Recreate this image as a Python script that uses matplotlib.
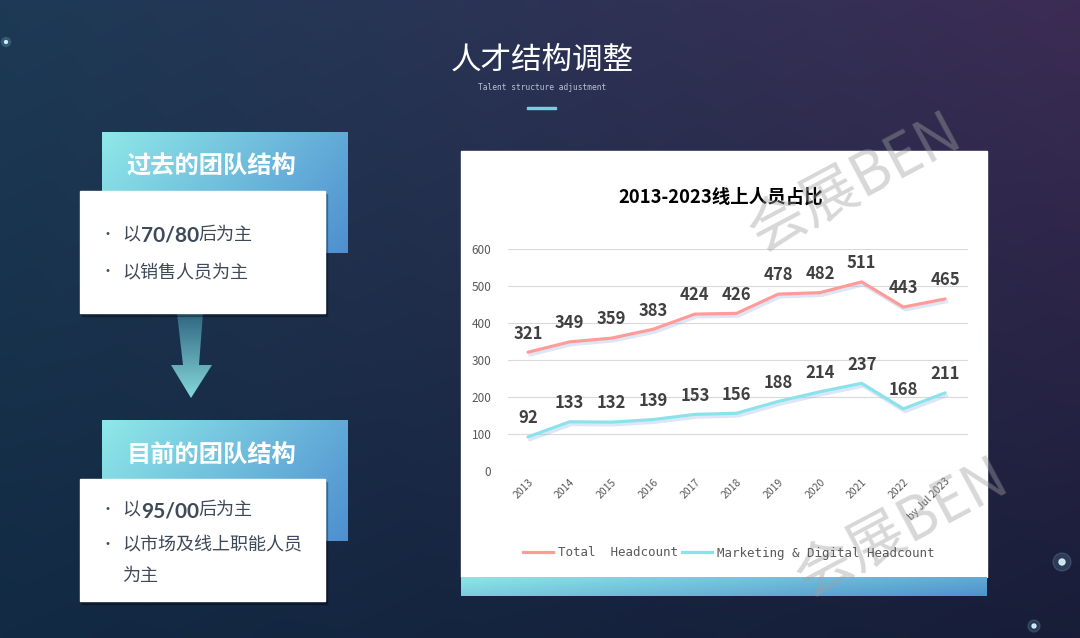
import numpy as np
import matplotlib.pyplot as plt
from matplotlib.patches import Rectangle, Polygon, Circle
from matplotlib.lines import Line2D
import matplotlib.patheffects as pe

plt.rcParams['font.family'] = ['Noto Sans CJK SC', 'DejaVu Sans']

# 数据
years = ['2013', '2014', '2015', '2016', '2017', '2018', '2019', '2020', '2021', '2022', 'by Jul 2023']
total = [321, 349, 359, 383, 424, 426, 478, 482, 511, 443, 465]
marketing = [92, 133, 132, 139, 153, 156, 188, 214, 237, 168, 211]
yticks = [0, 100, 200, 300, 400, 500, 600]
series_names = ['Total  Headcount', 'Marketing & Digital Headcount']
series_colors = ['#ff9b98', '#8ae3ea']

past_title = '过去的团队结构'
past_items = [['以', '70/80', '后为主'], ['以销售人员为主']]
now_title = '目前的团队结构'
now_items = [['以', '95/00', '后为主'], ['以市场及线上职能人员'], ['为主']]

W, H = 1080, 638
fig = plt.figure(figsize=(10.8, 6.38), dpi=100)
bg = fig.add_axes([0, 0, 1, 1])
bg.axis('off')


def hexrgb(h):
    h = h.lstrip('#')
    return np.array([int(h[i:i + 2], 16) for i in (0, 2, 4)]) / 255.0


# 背景渐变
tl, tr = hexrgb('#1d3a55'), hexrgb('#3c2c55')
bl, br = hexrgb('#122a44'), hexrgb('#181d38')
u = np.linspace(0, 1, 108)[None, :, None]
v = np.linspace(0, 1, 64)[:, None, None]
img = (1 - v) * ((1 - u) * tl + u * tr) + v * ((1 - u) * bl + u * br)
bg.imshow(img, extent=(0, W, H, 0), origin='upper', interpolation='bilinear', zorder=0)


def grad_box(x0, y0, x1, y1, c0, c1, z=2, clip=None):
    a, b = hexrgb(c0), hexrgb(c1)
    uu = np.linspace(0, 1, 60)[None, :, None]
    vv = np.linspace(0, 1, 60)[:, None, None]
    t = np.clip(0.7 * uu + 0.3 * vv, 0, 1)
    im = bg.imshow((1 - t) * a + t * b, extent=(x0, x1, y1, y0), origin='upper',
                   interpolation='bilinear', zorder=z)
    if clip is not None:
        im.set_clip_path(clip)
    return im


def vgrad(x0, y0, x1, y1, c0, c1, z=2, clip=None):
    a, b = hexrgb(c0), hexrgb(c1)
    vv = np.linspace(0, 1, 60)[:, None, None]
    g = np.repeat((1 - vv) * a + vv * b, 4, axis=1)
    im = bg.imshow(g, extent=(x0, x1, y1, y0), origin='upper',
                   interpolation='bilinear', zorder=z)
    if clip is not None:
        im.set_clip_path(clip)


# 左侧两个板块
def panel(y_top, title):
    grad_box(102, y_top, 348, y_top + 121, '#8ee8e8', '#4f8fd0', z=2)
    bg.text(211, y_top + 35, title, color='white', fontsize=17.5, fontweight='bold',
            ha='center', va='center', zorder=3)
    bg.add_patch(Rectangle((82, y_top + 62), 245, 122, color='black', alpha=0.25, zorder=3))
    bg.add_patch(Rectangle((80, y_top + 59), 245, 122, color='white', zorder=4))


def bullets(y_list, items):
    txt = '#3e4a5a'
    for y, parts in zip(y_list, items):
        if parts[0] != '为主':
            bg.text(107, y, '•', color=txt, fontsize=10, ha='center', va='center', zorder=5)
        if len(parts) == 3:
            t1 = bg.text(122, y, parts[0], color=txt, fontsize=13, va='center', zorder=5)
            fig.canvas.draw()
            x2 = 122 + t1.get_window_extent().width + 1
            t2 = bg.text(x2, y + 1, parts[1], color=txt, fontsize=15, fontweight='bold',
                         va='center', zorder=5, family=['Lato', 'DejaVu Sans'])
            fig.canvas.draw()
            x3 = x2 + t2.get_window_extent().width - 1
            bg.text(x3, y, parts[2], color=txt, fontsize=13, va='center', zorder=5)
        else:
            bg.text(122, y, parts[0], color=txt, fontsize=13, va='center', zorder=5)


panel(132, past_title)
bullets([235, 272], past_items)
panel(420, now_title)
bullets([510, 545, 576], now_items)

# 箭头
arrow = Polygon([(177, 313), (203, 313), (199, 365), (212, 365), (191, 398),
                 (171, 365), (183, 365)], closed=True, facecolor='none', edgecolor='none')
bg.add_patch(arrow)
vgrad(168, 313, 215, 398, '#2f6680', '#86d8dc', z=2, clip=arrow)

# 标题
bg.text(542, 60, '人才结构调整', color='white', fontsize=22, ha='center', va='center', zorder=5)
bg.text(542, 88, 'Talent structure adjustment', color='#b8c4d8', fontsize=5.7,
        ha='center', va='center', family=['DejaVu Sans Mono'], zorder=5)
bg.add_patch(Rectangle((527, 106.5), 29, 2.5, color='#6fd3e4', zorder=5))

# 图表背景
bg.add_patch(Rectangle((461, 151), 526, 426, color='white', zorder=2))
grad_box(461, 577, 987, 596, '#8ee6e6', '#4f92cc', z=2)

# 装饰光点
for (cx, cy, r) in [(1062, 562, 3), (1034, 626, 2), (6, 42, 1.5)]:
    bg.add_patch(Circle((cx, cy), r * 3, color='#9fe6ff', alpha=0.15, zorder=1))
    bg.add_patch(Circle((cx, cy), r, color='#d8f6ff', alpha=0.9, zorder=1))

bg.set_xlim(0, W)
bg.set_ylim(H, 0)
bg.set_aspect('auto')

# 折线图
ax = fig.add_axes([508 / W, 1 - 471 / H, (968 - 508) / W, (471 - 249) / H])
ax.patch.set_alpha(0)
x = np.arange(len(years))
for vals, name, col in zip([total, marketing], series_names, series_colors):
    ax.plot(x, vals, color=col, lw=2.3, label=name, solid_capstyle='round',
            path_effects=[pe.SimpleLineShadow(offset=(1.2, -2), shadow_color='#9db8e6', alpha=0.35),
                          pe.Normal()])
    for xi, vi in zip(x, vals):
        ax.annotate(str(vi), (xi, vi), xytext=(0, 7), textcoords='offset points',
                    ha='center', va='bottom', fontsize=12, fontweight='bold', color='#404040')

ax.set_xlim(-0.48, 10.55)
ax.set_ylim(0, 600)
ax.set_yticks(yticks)
ax.set_xticks(x)
ax.set_xticklabels(years, rotation=45, ha='right', rotation_mode='anchor',
                   fontsize=7.5, color='#595959')
ax.tick_params(axis='y', labelsize=8.5, labelcolor='#595959', length=0, pad=12)
ax.tick_params(axis='x', length=0, pad=4)
ax.grid(axis='y', color='#d9d9d9', lw=0.8)
ax.set_axisbelow(True)
for s in ax.spines.values():
    s.set_visible(False)

fig.text(721 / W, 1 - 197 / H, '2013-2023线上人员占比', ha='center', va='center',
         fontsize=13.3, fontweight='bold', color='black')

handles = [Line2D([], [], color=c, lw=2.3) for c in series_colors]
fig.legend(handles, series_names, loc='center', ncol=2, frameon=False,
           bbox_to_anchor=(729 / W, 1 - 553 / H), bbox_transform=fig.transFigure,
           prop={'family': ['DejaVu Sans Mono'], 'size': 9}, labelcolor='#595959',
           handlelength=2.4, columnspacing=0.3, handletextpad=0.4)

# 水印
for (wx, wy) in [(855, 183), (902, 528)]:
    fig.text(wx / W, 1 - wy / H, '会展BEN', rotation=28, fontsize=42, color='#a0a0a0',
             alpha=0.42, ha='center', va='center', family=['Noto Sans CJK SC'])

fig.savefig('out.png', dpi=100)
